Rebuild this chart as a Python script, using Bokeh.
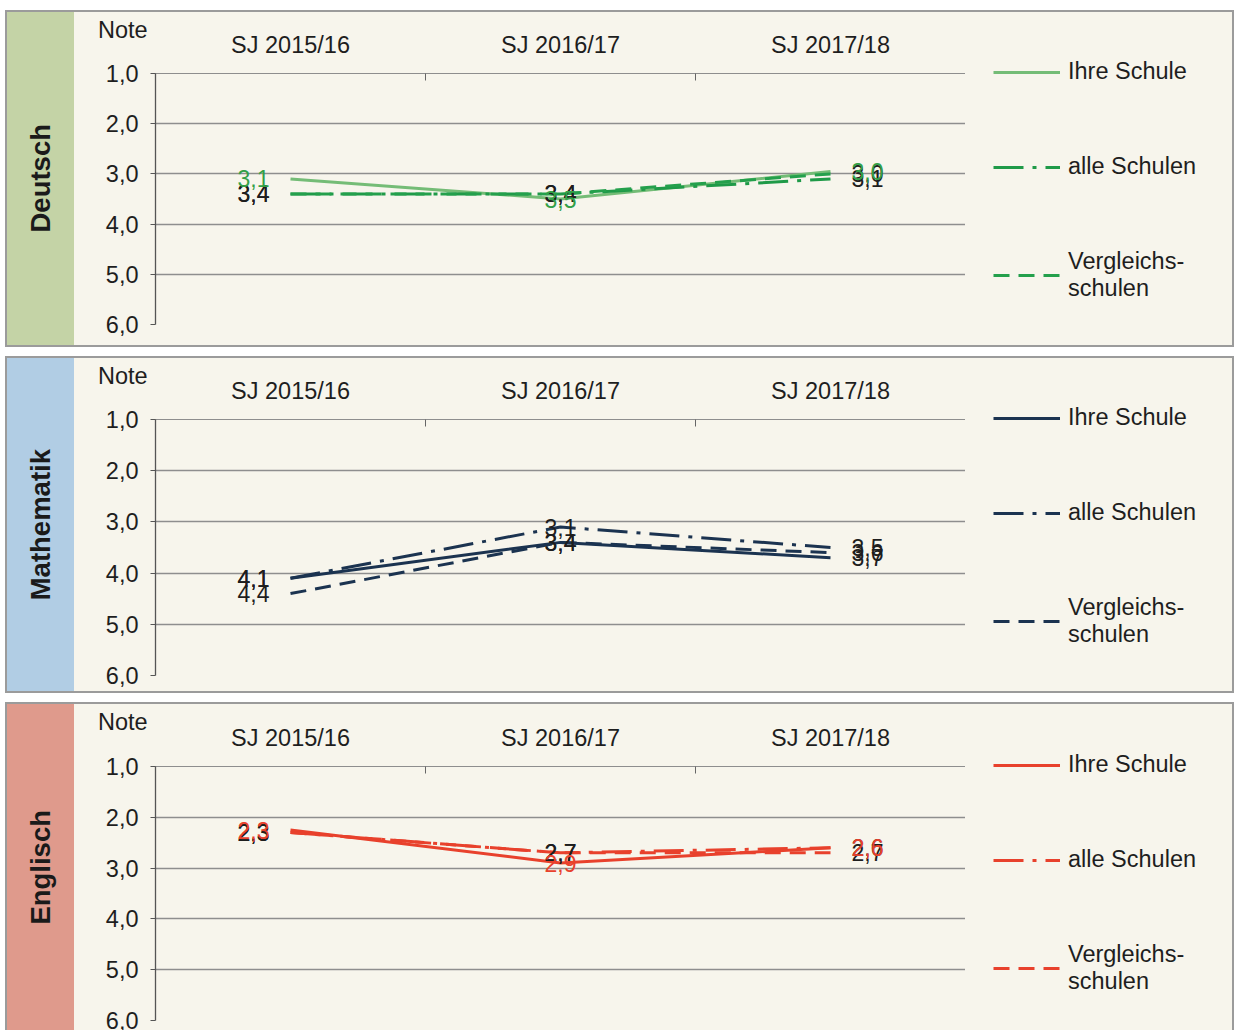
from decimal import Decimal, ROUND_HALF_UP

from bokeh.plotting import figure
from bokeh.models import (Range1d, FixedTicker, Legend, LegendItem,
                          ColumnDataSource, Div, Row, Column)
from bokeh.core.properties import value
from bokeh.embed import file_html
from bokeh.resources import INLINE

# ---------------- data ----------------
years = ["SJ 2015/16", "SJ 2016/17", "SJ 2017/18"]
series_names = ["Ihre Schule", "alle Schulen", "Vergleichs-\nschulen"]
y_ticks = [1, 2, 3, 4, 5, 6]
y_tick_labels = ["1,0", "2,0", "3,0", "4,0", "5,0", "6,0"]
y_title = "Note"

deutsch_ihre = [3.1, 3.5, 2.95]
deutsch_alle = [3.4, 3.4, 3.1]
deutsch_vergleich = [3.4, 3.4, 3.0]

mathe_ihre = [4.1, 3.4, 3.7]
mathe_alle = [4.1, 3.1, 3.5]
mathe_vergleich = [4.4, 3.4, 3.6]

englisch_ihre = [2.25, 2.9, 2.6]
englisch_alle = [2.3, 2.7, 2.6]
englisch_vergleich = [2.3, 2.7, 2.7]

# ---------------- style ----------------
FONT = "Liberation Sans"
CREAM = "#f7f5ec"
TEXT = "#1e1e1e"
GRID = "#8e8e8e"
DASHES = ["solid", "30 9 4 9", "16 9"]
LABEL_SHIFT = [-37, 0, 37]

panels = [
    dict(subject="Deutsch", strip="#c4d3a6",
         colors=["#74bc76", "#1f9a48", "#24a04c"], own_label="#33a048",
         values=[deutsch_ihre, deutsch_alle, deutsch_vergleich],
         height=333, top=61, frame=251),
    dict(subject="Mathematik", strip="#b1cde4",
         colors=["#1b3350", "#1b3350", "#1b3350"], own_label=TEXT,
         values=[mathe_ihre, mathe_alle, mathe_vergleich],
         height=333, top=61, frame=256),
    dict(subject="Englisch", strip="#df9a8c",
         colors=["#e8412c", "#e8412c", "#e8412c"], own_label="#e8412c",
         values=[englisch_ihre, englisch_alle, englisch_vergleich],
         height=326, top=62, frame=254),
]


def fmt(v):
    d = Decimal(str(v)).quantize(Decimal("0.1"), rounding=ROUND_HALF_UP)
    return str(d).replace(".", ",")


xs = [i + 0.5 for i in range(len(years))]
STRIP_W = 67
MAIN_W = 891
LEFT = 81
LEG_W = 267
LEG_H_ACTUAL = 243


def make_panel(cfg, last):
    h = cfg["height"]
    bottom = h - cfg["top"] - cfg["frame"]
    p = figure(width=MAIN_W, height=h,
               x_range=Range1d(0, len(years)), y_range=Range1d(6, 1),
               x_axis_location="above",
               output_backend="svg", toolbar_location=None,
               min_border_left=LEFT, min_border_right=0,
               min_border_top=cfg["top"], min_border_bottom=bottom,
               background_fill_color=CREAM, border_fill_color=CREAM,
               border_fill_alpha=0, outline_line_color=None)

    # x axis (top)
    xa = p.xaxis[0]
    xa.ticker = FixedTicker(ticks=xs, minor_ticks=list(range(len(years) + 1)))
    xa.major_label_overrides = {x: yr for x, yr in zip(xs, years)}
    xa.major_tick_line_color = None
    xa.major_tick_out = 0
    xa.major_tick_in = 0
    xa.minor_tick_in = 7
    xa.minor_tick_out = 0
    xa.minor_tick_line_color = "#666666"
    xa.axis_line_color = GRID
    xa.major_label_standoff = 16
    xa.major_label_text_font = FONT
    xa.major_label_text_font_size = "23.5px"
    xa.major_label_text_color = TEXT

    # y axis
    ya = p.yaxis[0]
    ya.ticker = FixedTicker(ticks=y_ticks)
    ya.major_label_overrides = {t: l for t, l in zip(y_ticks, y_tick_labels)}
    ya.major_tick_out = 5
    ya.major_tick_in = 0
    ya.minor_tick_line_color = None
    ya.major_tick_line_color = "#555555"
    ya.axis_line_color = "#555555"
    ya.axis_line_width = 1.3
    ya.major_label_standoff = 12
    ya.major_label_text_font = FONT
    ya.major_label_text_font_size = "23.5px"
    ya.major_label_text_color = TEXT

    p.xgrid.grid_line_color = None
    p.ygrid.ticker = FixedTicker(ticks=y_ticks)
    p.ygrid.grid_line_color = GRID
    p.ygrid.grid_line_width = 1.3

    for vals, col, dash in zip(cfg["values"], cfg["colors"], DASHES):
        p.line(xs, vals, line_color=col, line_width=3, line_dash=dash)

    # data labels: other series in black, own school coloured on top
    for idx in [1, 2, 0]:
        vals = cfg["values"][idx]
        src = ColumnDataSource(dict(x=xs, y=vals, t=[fmt(v) for v in vals],
                                    dx=LABEL_SHIFT))
        p.text(x="x", y="y", text="t", x_offset="dx", source=src,
               text_align="center", text_baseline="middle",
               text_font=value(FONT), text_font_size="23px",
               text_color=cfg["own_label"] if idx == 0 else TEXT)

    # legend in its own small figure to the right of the plot
    # (same series drawn there outside the visible range, only as legend sources)
    lf = figure(width=LEG_W, height=h, x_range=Range1d(0, 1), y_range=Range1d(-10, -9),
                x_axis_location=None, y_axis_location=None,
                output_backend="svg", toolbar_location=None,
                min_border=0, min_border_top=0, min_border_bottom=0,
                min_border_left=0, min_border_right=0,
                background_fill_color=CREAM, border_fill_color=CREAM,
                outline_line_color=None)
    lf.xgrid.visible = False
    lf.ygrid.visible = False
    items = []
    for name, vals, col, dash in zip(series_names, cfg["values"], cfg["colors"], DASHES):
        r = lf.line(xs, vals, line_color=col, line_width=3, line_dash=dash)
        items.append(LegendItem(label=name, renderers=[r]))
    vy = h - (cfg["top"] - 14) - LEG_H_ACTUAL
    legend = Legend(items=items, location=(28, vy),
                    glyph_width=67, glyph_height=24, label_height=24,
                    label_standoff=8, spacing=68, padding=0, margin=0,
                    label_text_font=FONT, label_text_font_size="23.5px",
                    label_text_color=TEXT, label_text_line_height=1.15,
                    background_fill_alpha=0, border_line_color=None)
    lf.add_layout(legend, "center")
    legend_box = Column(children=[lf], spacing=0)

    strip = Div(
        text=(f'<div style="position:relative;width:{STRIP_W}px;height:{h}px;">'
              f'<div style="position:absolute;left:0;top:0;width:{STRIP_W}px;height:{h}px;'
              f'display:flex;align-items:center;justify-content:center;">'
              f'<span style="writing-mode:vertical-rl;transform:rotate(180deg);'
              f'font-family:\'{FONT}\';font-weight:bold;font-size:27.5px;color:#1a1a1a;">'
              f'{cfg["subject"]}</span></div>'
              f'<div style="position:absolute;left:91px;top:5px;line-height:27px;'
              f'font-family:\'{FONT}\';font-size:23.5px;color:{TEXT};white-space:nowrap;">'
              f'{y_title}</div></div>'),
        width=STRIP_W, height=h,
        styles={"background-color": cfg["strip"], "margin": "0", "padding": "0",
                "overflow": "visible", "z-index": "3"})

    border = "2px solid #9b9b9b"
    styles = {"border-left": border, "border-right": border, "border-top": border,
              "background-color": CREAM}
    if not last:
        styles["border-bottom"] = border
    return Row(children=[strip, p, legend_box], styles=styles, spacing=0)


rows = [make_panel(cfg, i == len(panels) - 1) for i, cfg in enumerate(panels)]
layout = Column(children=rows, spacing=9, margin=(10, 0, 0, 5))

open("out.html", "w").write(file_html(layout, INLINE, title="Noten"))
